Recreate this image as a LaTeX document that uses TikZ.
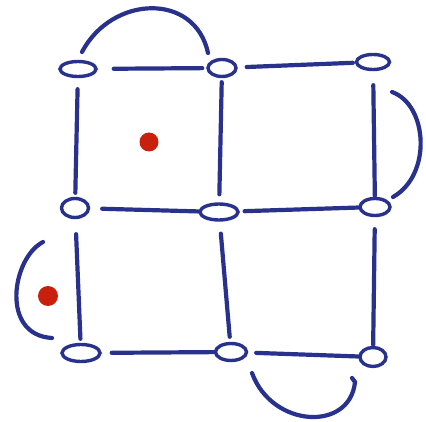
\documentclass[tikz,border=0pt]{standalone}
\usetikzlibrary{shapes.geometric,calc}
\definecolor{pen}{RGB}{40,50,140}
\definecolor{dotred}{RGB}{200,32,12}
\begin{document}
\begin{tikzpicture}[x=1pt,y=-1pt,
  vtx/.style={ellipse,draw=pen,line width=3.4pt,inner sep=0pt,fill=none},
  edge/.style={draw=pen,line width=4.2pt,line cap=round},
  mark dot/.style={circle,fill=dotred,inner sep=0pt,minimum size=19pt}]
\fill[white] (0,0) rectangle (426,422);
\useasboundingbox (0,0) rectangle (426,422);
% vertices
\node[vtx,minimum width=36pt,minimum height=15pt] (A) at (78,69) {};
\node[vtx,minimum width=28pt,minimum height=17pt] (B) at (222,68) {};
\node[vtx,minimum width=33pt,minimum height=15pt] (C) at (373,62) {};
\node[vtx,minimum width=27pt,minimum height=19pt] (D) at (75,208) {};
\node[vtx,minimum width=38pt,minimum height=16pt] (E) at (219,212) {};
\node[vtx,minimum width=30pt,minimum height=17pt] (F) at (375,207) {};
\node[vtx,minimum width=38pt,minimum height=17pt] (G) at (81,353) {};
\node[vtx,minimum width=31pt,minimum height=17pt] (H) at (231,352) {};
\node[vtx,minimum width=26pt,minimum height=19pt] (I) at (373,357) {};
% red dots
\node[mark dot] (r1) at (149,142) {};
\node[mark dot,minimum size=20pt] (r2) at (48,296) {};
% horizontal edges
\draw[edge,shorten <=16pt,shorten >=4pt] (A) -- (B);
\draw[edge,shorten <=9pt,shorten >=2pt] (B) -- (C);
\draw[edge,shorten <=12pt,shorten >=0pt] (D) -- (E);
\draw[edge,shorten <=5pt,shorten >=0pt] (E) -- (F);
\draw[edge,shorten <=10pt,shorten >=0pt] (G) -- (H);
\draw[edge,shorten <=8pt,shorten >=0pt] (H) -- (I);
% vertical edges
\draw[edge,shorten <=11pt,shorten >=4pt] (A) -- (D);
\draw[edge,shorten <=4pt,shorten >=8pt] (B) -- (E);
\draw[edge,shorten <=14pt,shorten >=1pt] (C) -- (F);
\draw[edge,shorten <=15pt,shorten >=4pt] (D) -- (G);
\draw[edge,shorten <=12pt,shorten >=5pt] (E) -- (H);
\draw[edge,shorten <=12pt,shorten >=1pt] (F) -- (I);
% arcs
\draw[edge] ($(A)+(4,-17)$) .. controls ($(A)+(34,-74)$) and ($(B)+(-27,-76)$) .. ($(B)+(-14,-15)$);
\draw[edge] ($(C)+(19,30)$) .. controls ($(C)+(55,43)$) and ($(F)+(57,-32)$) .. ($(F)+(18,-10)$);
\draw[edge] ($(D)+(-32,34)$) .. controls ($(D)+(-63,50)$) and ($(G)+(-81,-18)$) .. ($(G)+(-29,-15)$);
\draw[edge] ($(H)+(21,21)$) .. controls ($(H)+(41,76)$) and ($(I)+(-23,75)$) .. ($(I)+(-18,25)$) -- ($(I)+(-21,21)$);
\end{tikzpicture}
\end{document}
